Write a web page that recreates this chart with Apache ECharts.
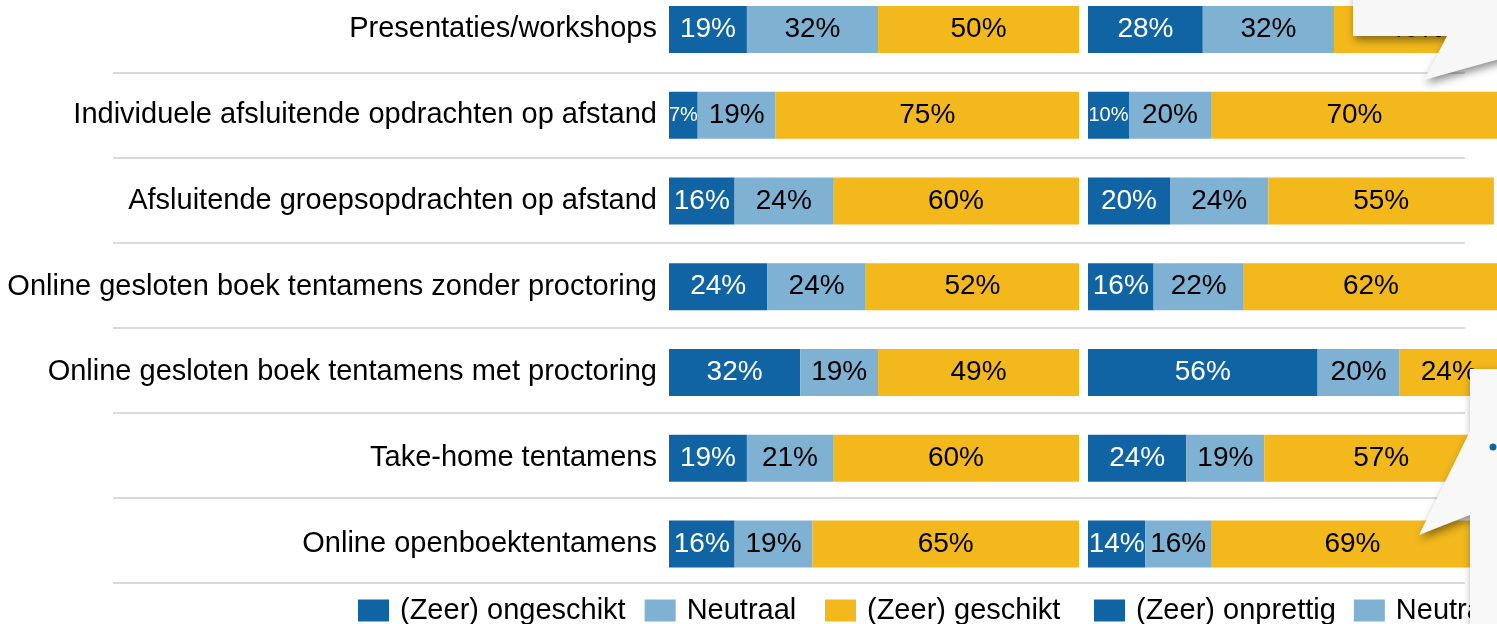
<!DOCTYPE html>
<html>
<head>
<meta charset="utf-8">
<title>Geschiktheid toetsvormen</title>
<script src="https://cdn.jsdelivr.net/npm/echarts@6/dist/echarts.min.js"></script>
<style>
  html, body { margin: 0; padding: 0; background: #fff; }
  #chart { width: 1497px; height: 624px; }
</style>
</head>
<body>
<div id="chart"></div>
<script>
// categories, top to bottom
const categories = [
  'Presentaties/workshops',
  'Individuele afsluitende opdrachten op afstand',
  'Afsluitende groepsopdrachten op afstand',
  'Online gesloten boek tentamens zonder proctoring',
  'Online gesloten boek tentamens met proctoring',
  'Take-home tentamens',
  'Online openboektentamens'
]

// left panel: geschiktheid (%)
const ongeschikt = [19, 7, 16, 24, 32, 19, 16]
const neutraalLinks = [32, 19, 24, 24, 19, 21, 19]
const geschikt = [50, 75, 60, 52, 49, 60, 65]

// right panel: prettig (%)
const onprettig = [28, 10, 20, 16, 56, 24, 14]
const neutraalRechts = [32, 20, 24, 22, 20, 19, 16]
const prettig = [40, 70, 55, 62, 24, 57, 69]

const font = 'Liberation Sans, Arial, sans-serif'
const darkBlue = '#1064a3'
const lightBlue = '#7fb1d3'
const yellow = '#f2b81c'

function barSeries (name, values, color, textColor, idx) {
  return {
    name: name,
    type: 'bar',
    stack: idx === 0 ? 'links' : 'rechts',
    xAxisIndex: idx,
    yAxisIndex: idx,
    barWidth: 47,
    itemStyle: { color: color },
    label: {
      show: true,
      position: 'inside',
      color: textColor,
      fontFamily: font,
      fontSize: 28,
      formatter: '{c}%'
    },
    // small segments get a smaller label, like the original
    data: values.map(v => v < 12 ? { value: v, label: { fontSize: 20 } } : v)
  }
}

const chart = echarts.init(document.getElementById('chart'))

const legendBase = {
  orient: 'horizontal',
  top: 596,
  padding: 0,
  icon: 'rect',
  itemWidth: 31,
  itemHeight: 22,
  textStyle: { fontFamily: font, fontSize: 29, color: '#000', padding: [0, 0, 0, 6] }
}

chart.setOption({
  animation: false,
  backgroundColor: '#fff',
  grid: [
    { left: 669, width: 410, top: -13.4, height: 600.25, outerBoundsMode: 'none' },
    { left: 1088, width: 410, top: -13.4, height: 600.25, outerBoundsMode: 'none' },
    // separator lines
    { left: 113, width: 1352, top: -12.6, height: 595.6, outerBoundsMode: 'none' }
  ],
  xAxis: [
    { gridIndex: 0, type: 'value', min: 0, max: 100, show: false },
    { gridIndex: 1, type: 'value', min: 0, max: 100, show: false },
    { gridIndex: 2, type: 'value', min: 0, max: 1, show: false }
  ],
  yAxis: [
    {
      gridIndex: 0,
      type: 'category',
      inverse: true,
      data: categories,
      axisLine: { show: false },
      axisTick: { show: false },
      axisLabel: { margin: 12, fontFamily: font, fontSize: 29, color: '#000' }
    },
    {
      gridIndex: 1,
      type: 'category',
      inverse: true,
      data: categories,
      axisLine: { show: false },
      axisTick: { show: false },
      axisLabel: { show: false }
    },
    {
      gridIndex: 2,
      type: 'category',
      inverse: true,
      data: categories,
      axisLine: { show: false },
      axisTick: { show: false },
      axisLabel: { show: false },
      splitLine: { show: true, lineStyle: { color: '#d9d9d9', width: 2 } },
      z: 0
    }
  ],
  legend: [
    Object.assign({}, legendBase, { left: 358, itemGap: 19, data: ['(Zeer) ongeschikt', 'Neutraal'] }),
    Object.assign({}, legendBase, { left: 825, data: ['(Zeer) geschikt'] }),
    Object.assign({}, legendBase, { left: 1094, width: 600, itemGap: 18, data: ['(Zeer) onprettig', 'Neutraal'] })
  ],
  series: [
    barSeries('(Zeer) ongeschikt', ongeschikt, darkBlue, '#fff', 0),
    barSeries('Neutraal', neutraalLinks, lightBlue, '#000', 0),
    barSeries('(Zeer) geschikt', geschikt, yellow, '#000', 0),
    barSeries('(Zeer) onprettig', onprettig, darkBlue, '#fff', 1),
    barSeries('Neutraal', neutraalRechts, lightBlue, '#000', 1),
    barSeries('(Zeer) prettig', prettig, yellow, '#000', 1)
  ],
  // speech bubbles from the slide that sit over the right panel
  graphic: [
    {
      type: 'polygon',
      z: 100,
      shape: { points: [[1353, -10], [1510, -10], [1510, 56], [1424, 80], [1447, 36], [1353, 36]] },
      style: { fill: '#f7f7f7', shadowBlur: 8, shadowColor: 'rgba(0,0,0,0.45)', shadowOffsetX: 2, shadowOffsetY: 4 }
    },
    {
      type: 'polygon',
      z: 100,
      shape: { points: [[1470, 369], [1510, 369], [1510, 640], [1470, 640], [1470, 515], [1419, 535], [1470, 431]] },
      style: { fill: '#f8f8f8', shadowBlur: 8, shadowColor: 'rgba(0,0,0,0.45)', shadowOffsetX: 2, shadowOffsetY: 4 }
    },
    {
      type: 'circle',
      z: 101,
      shape: { cx: 1493, cy: 447, r: 3.5 },
      style: { fill: darkBlue }
    }
  ]
})
</script>
</body>
</html>
